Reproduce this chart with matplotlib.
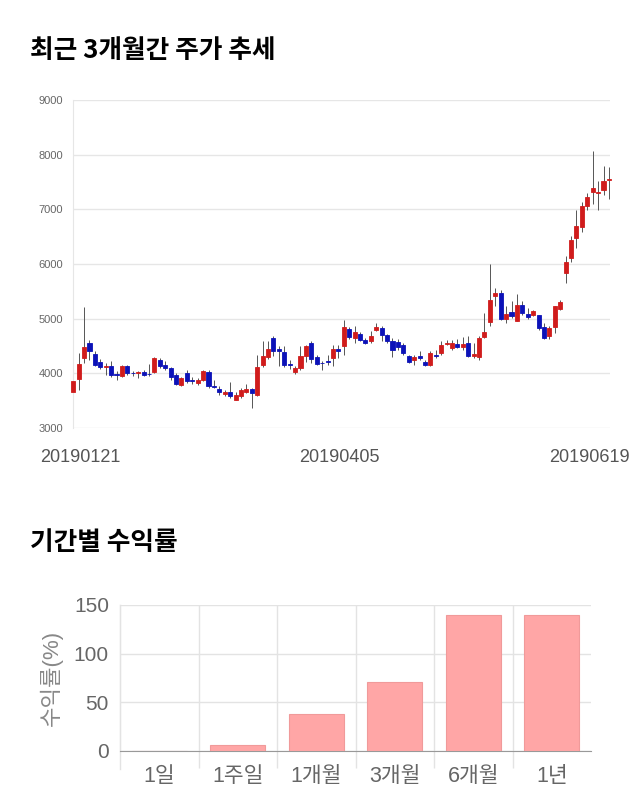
import numpy as np
import matplotlib
matplotlib.use("Agg")
import matplotlib.pyplot as plt
import matplotlib.transforms as mtransforms

plt.rcParams['font.family'] = ['Liberation Sans', 'Noto Sans CJK KR', 'DejaVu Sans']

# 3-month daily candles
opens = [3659, 3896, 4281, 4555, 4360, 4201, 4110, 4140, 3995, 3945,
         4140, 4010, 4010, 4030, 3995, 4018, 4250, 4146, 4091, 3976,
         3793, 4006, 3870, 3823, 3872, 4018, 3765, 3713, 3630, 3659,
         3518, 3579, 3659, 3713, 3610, 4159, 4299, 4640, 4445, 4396,
         4177, 4018, 4098, 4323, 4555, 4299, 4195, 4232, 4281, 4445,
         4494, 4817, 4640, 4726, 4616, 4585, 4799, 4829, 4701, 4598,
         4573, 4525, 4323, 4250, 4311, 4201, 4159, 4335, 4372, 4545,
         4464, 4543, 4482, 4555, 4311, 4299, 4659, 4933, 5409, 5464,
         4994, 5122, 4964, 5250, 5085, 5073, 5061, 4842, 4689, 4848,
         5177, 5836, 6110, 6476, 6677, 7055, 7311, 7305, 7360, 7531]
highs = [3915, 4372, 5207, 4616, 4402, 4262, 4189, 4220, 4049, 4159,
         4159, 4037, 4049, 4067, 4177, 4299, 4281, 4220, 4116, 4006,
         3933, 4067, 3927, 3915, 4055, 4055, 3884, 3774, 3689, 3835,
         3652, 3732, 3811, 3732, 4342, 4585, 4585, 4677, 4494, 4494,
         4250, 4140, 4494, 4525, 4585, 4342, 4220, 4342, 4525, 4525,
         4982, 4848, 4860, 4750, 4646, 4768, 4921, 4860, 4726, 4646,
         4628, 4555, 4342, 4342, 4402, 4238, 4402, 4433, 4585, 4616,
         4616, 4628, 4665, 4689, 4555, 4677, 5104, 6006, 5561, 5531,
         5226, 5317, 5458, 5317, 5195, 5165, 5073, 4921, 4860, 5238,
         5336, 6153, 6506, 6994, 7128, 7299, 8061, 7512, 7799, 7775]
lows = [3610, 3701, 4189, 4250, 4128, 4079, 3976, 3927, 3884, 3927,
        3976, 3945, 3915, 3945, 3945, 4006, 4091, 4067, 3884, 3793,
        3762, 3823, 3811, 3793, 3854, 3732, 3732, 3610, 3579, 3549,
        3506, 3549, 3640, 3366, 3592, 4116, 4262, 4311, 4128, 4116,
        4079, 3994, 4067, 4201, 4189, 4159, 4067, 4159, 4140, 4281,
        4342, 4628, 4555, 4585, 4543, 4555, 4768, 4585, 4555, 4299,
        4433, 4342, 4189, 4159, 4250, 4140, 4140, 4281, 4342, 4525,
        4421, 4464, 4421, 4299, 4281, 4238, 4646, 4872, 5226, 4982,
        4921, 5012, 4951, 5073, 4994, 5043, 4799, 4628, 4628, 4738,
        5153, 5653, 6031, 6293, 6580, 6982, 7104, 6994, 7268, 7189]
closes = [3866, 4177, 4476, 4402, 4146, 4116, 4128, 3963, 3970, 4140,
          4006, 4000, 4025, 3970, 3985, 4281, 4128, 4098, 3927, 3811,
          3915, 3866, 3860, 3872, 4037, 3774, 3755, 3659, 3650, 3579,
          3604, 3701, 3713, 3640, 4116, 4323, 4445, 4402, 4402, 4153,
          4146, 4098, 4311, 4494, 4262, 4177, 4185, 4201, 4445, 4402,
          4842, 4659, 4756, 4616, 4561, 4689, 4848, 4695, 4585, 4433,
          4482, 4372, 4213, 4293, 4281, 4159, 4372, 4311, 4525, 4555,
          4555, 4482, 4537, 4311, 4360, 4646, 4756, 5348, 5470, 4994,
          5085, 5043, 5256, 5104, 5031, 5140, 4829, 4646, 4829, 5226,
          5299, 6031, 6445, 6689, 7055, 7220, 7390, 7315, 7512, 7561]
date_ticks = [0, 49, 99]
date_labels = ["20190121", "20190405", "20190619"]

# period returns
periods = ["1일", "1주일", "1개월", "3개월", "6개월", "1년"]
returns = [0.0, 6.2, 37.7, 71.2, 139.7, 139.9]

RED = "#d01c1c"
BLUE = "#0c12b8"

fig = plt.figure(figsize=(6.4, 8.1), dpi=100)

fig.text(30 / 640, 1 - 50 / 810, "최근 3개월간 주가 추세", fontsize=18.5,
         fontweight="bold", family=["Noto Sans CJK KR"], va="center", ha="left")
fig.text(30 / 640, 1 - 543 / 810, "기간별 수익률", fontsize=18.5,
         fontweight="bold", family=["Noto Sans CJK KR"], va="center", ha="left")

# ---- candlestick chart
ax = fig.add_axes([72.7 / 640, 1 - 428 / 810, 537.3 / 640, 328 / 810])
x = np.arange(len(opens))
o = np.array(opens)
c = np.array(closes)
colors = [RED if cc >= oo else BLUE for oo, cc in zip(o, c)]
ax.vlines(x, lows, highs, color="#555555", linewidth=0.7, zorder=2, clip_on=False)
ax.bar(x, np.abs(c - o), bottom=np.minimum(o, c), width=0.75, color=colors,
       edgecolor=colors, linewidth=0.6, zorder=3, clip_on=False)
ax.set_xlim(-0.1, 99.2)
ax.set_ylim(3000, 9000)
ax.set_yticks(range(3000, 9001, 1000))
ax.yaxis.grid(True, color="#e6e6e6", linewidth=1)
ax.set_axisbelow(True)
for s in ["top", "right", "bottom"]:
    ax.spines[s].set_visible(False)
ax.spines["left"].set_color("#e6e6e6")
ax.tick_params(axis="y", length=0, pad=7, labelsize=8, labelcolor="#666666")
ax.set_xticks(date_ticks)
ax.set_xticklabels(date_labels)
ax.tick_params(axis="x", length=0, pad=15, labelsize=13, labelcolor="#555555")
shifts = [7, 1, -19]
for lab, dx in zip(ax.get_xticklabels(), shifts):
    lab.set_transform(lab.get_transform() +
                      mtransforms.ScaledTranslation(dx / 100, 0, fig.dpi_scale_trans))

# ---- returns bar chart
bx = fig.add_axes([120 / 640, 1 - 751 / 810, 471 / 640, 146 / 810])
bpos = np.arange(len(periods))
bx.bar(bpos, returns, width=0.7, color="#ffa6a6", edgecolor="#f09a9a",
       linewidth=0.8, zorder=3)
bx.set_xlim(-0.5, len(periods) - 0.5)
bx.set_ylim(0, 150)
bx.set_yticks([0, 50, 100, 150])
bx.set_xticks(bpos)
bx.set_xticklabels(periods)
bx.set_xticks(bpos[:-1] - 0.5 + 1, minor=True)
bx.yaxis.grid(True, color="#e3e3e3", linewidth=1)
bx.xaxis.grid(True, which="minor", color="#e3e3e3", linewidth=1)
bx.set_axisbelow(True)
for s in ["top", "right"]:
    bx.spines[s].set_visible(False)
bx.spines["left"].set_color("#e3e3e3")
bx.spines["bottom"].set_color("#999999")
bx.tick_params(axis="x", which="major", length=0, pad=11, labelsize=15.5,
               labelcolor="#666666")
bx.tick_params(axis="x", which="minor", length=12, width=1, color="#e3e3e3")
bx.tick_params(axis="y", length=0, pad=8, labelsize=15, labelcolor="#666666")
bx.set_ylabel("수익률(%)", fontsize=16, color="#888888", labelpad=8)
# tick at the left boundary too
bx.axvline(-0.5, ymin=-0.12, ymax=1, color="#e3e3e3", linewidth=1, clip_on=False)

fig.savefig("out.png", dpi=100)
